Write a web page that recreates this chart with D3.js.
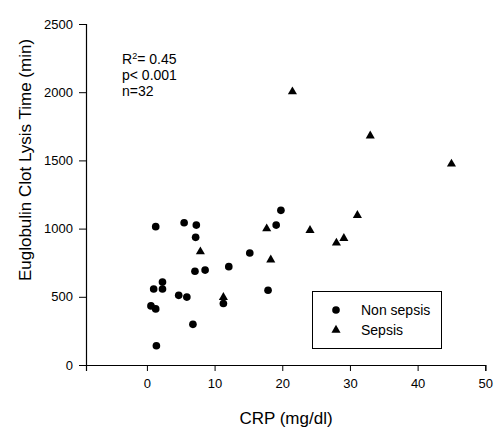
<!DOCTYPE html>
<html><head><meta charset="utf-8">
<script src="https://cdn.jsdelivr.net/npm/d3@7"></script>
<style>body{margin:0;background:#fff}svg{display:block}text{font-family:Arial,"Liberation Sans",sans-serif;fill:#000}</style>
</head><body><svg id="c" width="501" height="438"></svg>
<script>
const nonSepsisCRP = [1.3, 5.5, 7.3, 7.2, 15.2, 19.1, 19.8, 7.1, 8.6, 12.1, 2.3, 1.0, 2.3, 4.7, 5.9, 0.6, 1.3, 11.3, 17.9, 6.8, 1.4];
const nonSepsisECLT = [1014, 1043, 1026, 936, 821, 1026, 1134, 687, 696, 721, 608, 557, 557, 511, 498, 433, 411, 451, 548, 298, 141];
const sepsisCRP = [7.9, 11.3, 17.7, 18.3, 31.1, 24.1, 29.1, 28.0, 21.5, 33.0, 45.0];
const sepsisECLT = [838, 504, 1007, 779, 1105, 995, 936, 902, 2011, 1688, 1481];
const xTicks = [0, 10, 20, 30, 40, 50];
const yTicks = [0, 500, 1000, 1500, 2000, 2500];
const statsLines = ["= 0.45", "p< 0.001", "n=32"];
const legendLabels = ["Non sepsis", "Sepsis"];

const svg = d3.select("#c");
const x = d3.scaleLinear().domain([-9, 50]).range([86, 485.3]);
const y = d3.scaleLinear().domain([0, 2500]).range([365, 24]);

const xa = svg.append("g").attr("transform", "translate(0,365)")
  .call(d3.axisBottom(x).tickValues(xTicks).tickSize(6).tickPadding(8).tickFormat(d3.format("d")));
const ya = svg.append("g").attr("transform", "translate(86,0)")
  .call(d3.axisLeft(y).tickValues(yTicks).tickSize(7).tickPadding(6).tickFormat(d3.format("d")));
[xa, ya].forEach(a => {
  a.select(".domain").attr("stroke", "#000").attr("stroke-width", 1.2);
  a.selectAll(".tick line").attr("stroke", "#000");
  a.selectAll("text").style("font-size", "13px").attr("fill", "#000");
});

svg.append("text").attr("x", 286).attr("y", 424).attr("text-anchor", "middle")
  .style("font-size", "17px").text("CRP (mg/dl)");
svg.append("text").attr("transform", "translate(31,160) rotate(-90)").attr("text-anchor", "middle")
  .style("font-size", "17px").text("Euglobulin Clot Lysis Time (min)");

const circ = d3.symbol().type(d3.symbolCircle).size(46);
const tri = d3.symbol().type(d3.symbolTriangle).size(36);

svg.append("g").selectAll("path").data(nonSepsisCRP).join("path")
  .attr("d", circ).attr("fill", "#000")
  .attr("transform", (d, i) => `translate(${x(d)},${y(nonSepsisECLT[i])})`);
svg.append("g").selectAll("path").data(sepsisCRP).join("path")
  .attr("d", tri).attr("fill", "#000")
  .attr("transform", (d, i) => `translate(${x(d)},${y(sepsisECLT[i]) + 1})`);

// stats text
const st = svg.append("g").style("font-size", "14px");
const t0 = st.append("text").attr("x", 122).attr("y", 64);
t0.append("tspan").text("R");
t0.append("tspan").attr("dy", -5).style("font-size", "9px").text("2");
t0.append("tspan").attr("dy", 5).text(statsLines[0]);
st.append("text").attr("x", 122).attr("y", 80).text(statsLines[1]);
st.append("text").attr("x", 122).attr("y", 96).text(statsLines[2]);

// legend
const lg = svg.append("g");
lg.append("rect").attr("x", 312.5).attr("y", 291.5).attr("width", 129).attr("height", 57)
  .attr("fill", "#fff").attr("stroke", "#000");
lg.append("path").attr("d", circ).attr("transform", "translate(336,310)");
lg.append("path").attr("d", tri).attr("transform", "translate(336,330)");
legendLabels.forEach((l, i) => lg.append("text").attr("x", 361).attr("y", 315 + i * 19.5)
  .style("font-size", "14px").text(l));
</script></body></html>
